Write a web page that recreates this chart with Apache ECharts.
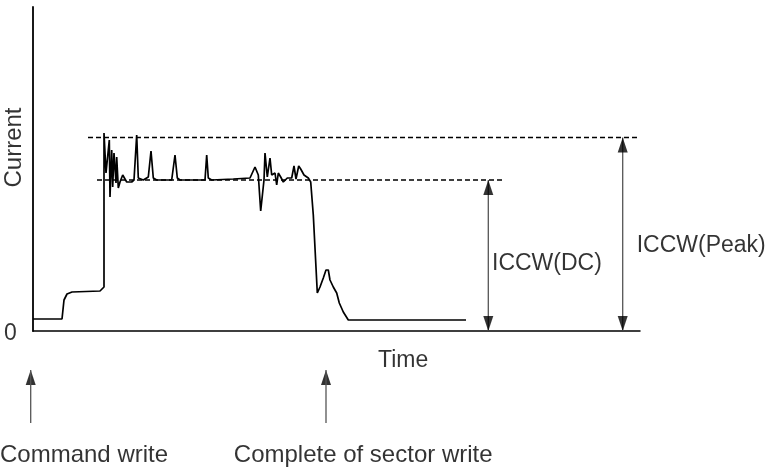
<!DOCTYPE html>
<html><head><meta charset="utf-8">
<script src="https://cdn.jsdelivr.net/npm/echarts@6/dist/echarts.min.js"></script>
<style>html,body{margin:0;padding:0;background:#fff}#c{width:769px;height:471px}</style>
</head><body><div id="c"></div>
<script>
// Current waveform (time, current) in arbitrary units
const currentTrace = [
  [0,12],[29,12],[31,31],[34,37],[39,39],[67,40],[71,44],
  [71,198],[73,158],[76.3,191],[77,134],[78.7,181],[79.7,144],[81,178],[83,148],[83.7,174],
  [85.3,143],[87,149],[89.7,156],[93.7,149],[98.7,149],[101,151],[103.7,196],[105.3,153],
  [110.3,151],[115.3,154],[118,180],[120.3,153],[123.7,151],[138.7,151],[142,176],[144.3,153],
  [147,151],[172,151],[173.7,176],[175.3,153],[178.7,151],[200.3,152],[217,153],[222,164],
  [225.3,156],[227.7,120],[231,151],[232,178],[234.3,154],[237,173],[238.7,156],[242,158],
  [243.7,146],[245.3,158],[247.7,154],[250.3,149],[254.3,153],[258.7,153],[261,165],[263,152],
  [265.7,165],[267.7,162],[271,156],[275.3,153],[277.7,149],[280.3,116],[282,114],[284.3,38],
  [287,44],[290.3,53],[293,61],[295.3,61],[297,51],[300.3,44],[303.7,38],[306.3,28],[310.3,19],
  [315.3,11],[433,11]
];
const peakLevel = 193.5;
const dcLevel = 151;
const peakLineRange = [55, 605];
const dcLineRange = [64, 472];
const dcArrowX = 455.3;
const peakArrowX = 589.7;
const yTickLabels = ['0'];
const eventTimes = [-2.3, 293];
const eventLabels = ['Command write', 'Complete of sector write'];
const eventLabelX = [-33, 200.8];
const annotations = [
  {text: 'ICCW(DC)', x: 459, y: 67},
  {text: 'ICCW(Peak)', x: 603.7, y: 85.5}
];
const zeroLabel = {text: yTickLabels[0], x: -22.5, y: -3};
const yAxisTitle = {text: 'Current', x: -19, y: 183.5};
const xAxisTitle = {text: 'Time', x: 345, y: 110};

const FONT = 'Liberation Sans, Arial, sans-serif';
const FS = 23;
const chart = echarts.init(document.getElementById('c'));
const textLabel = (pos, fs) => ({show: true, position: pos, distance: 0, color: '#000', fontSize: fs || FS, fontFamily: FONT, formatter: p => p.data.name});

chart.setOption({
  animation: false,
  backgroundColor: '#fff',
  grid: [
    {left: 33, right: 129, top: 7, bottom: 140},
    {left: 0, right: 129, top: 340, height: 131}
  ],
  xAxis: [
    {type: 'value', gridIndex: 0, min: 0, max: 607, axisLine: {show: true, lineStyle: {color: '#000', width: 1.5}},
      axisTick: {show: false}, axisLabel: {show: false}, splitLine: {show: false}},
    {type: 'value', gridIndex: 1, min: -33, max: 607, show: false}
  ],
  yAxis: [
    {type: 'value', gridIndex: 0, min: 0, max: 324, interval: 324,
      axisLine: {show: true, lineStyle: {color: '#000', width: 1.8}},
      axisTick: {show: false}, splitLine: {show: false}, axisLabel: {show: false}},
    {type: 'value', gridIndex: 1, min: 0, max: 131, show: false}
  ],
  series: [
    {type: 'line', data: currentTrace, symbol: 'none', clip: false, lineStyle: {color: '#000', width: 1.7}, z: 5},
    {type: 'line', data: [[peakLineRange[0], peakLevel], [peakLineRange[1], peakLevel]], symbol: 'none',
      lineStyle: {color: '#000', width: 1.3, type: [5, 3]}},
    {type: 'line', data: [[dcLineRange[0], dcLevel], [dcLineRange[1], dcLevel]], symbol: 'none',
      lineStyle: {color: '#000', width: 1.3, type: [5, 3]}},
    {type: 'line', data: [[dcArrowX, 0], [dcArrowX, dcLevel]], symbol: 'none', lineStyle: {color: '#555', width: 1.3}},
    {type: 'line', data: [[peakArrowX, 0], [peakArrowX, peakLevel]], symbol: 'none', lineStyle: {color: '#555', width: 1.3}},
    {type: 'scatter', data: [[dcArrowX, dcLevel], [peakArrowX, peakLevel]], symbol: 'triangle', symbolSize: [10, 15],
      symbolOffset: [0, '50%'], itemStyle: {color: '#000'}, clip: false, z: 6},
    {type: 'scatter', data: [[dcArrowX, 0], [peakArrowX, 0]], symbol: 'triangle', symbolSize: [10, 15], symbolRotate: 180,
      symbolOffset: [0, '-50%'], itemStyle: {color: '#000'}, clip: false, z: 6},
    {type: 'scatter', data: annotations.map(a => ({name: a.text, value: [a.x, a.y]})), symbolSize: 0, clip: false,
      label: textLabel('right')},
    {type: 'scatter', data: [{name: zeroLabel.text, value: [zeroLabel.x, zeroLabel.y]}], symbolSize: 0, clip: false,
      label: textLabel('inside')},
    {type: 'scatter', data: [{name: yAxisTitle.text, value: [yAxisTitle.x, yAxisTitle.y]}], symbolSize: 0, clip: false,
      label: Object.assign(textLabel('inside', 24), {rotate: 90})},
    // bottom annotation panel
    ...eventTimes.map(t => ({type: 'line', xAxisIndex: 1, yAxisIndex: 1, data: [[t, 48], [t, 101]], symbol: 'none', clip: false,
      lineStyle: {color: '#555', width: 1.3}})),
    {type: 'scatter', xAxisIndex: 1, yAxisIndex: 1, data: eventTimes.map(t => [t, 101]), symbol: 'triangle', symbolSize: [10, 15],
      symbolOffset: [0, '50%'], itemStyle: {color: '#000'}, clip: false},
    {type: 'scatter', xAxisIndex: 1, yAxisIndex: 1, data: eventLabels.map((s, i) => ({name: s, value: [eventLabelX[i], 16]})),
      symbolSize: 0, clip: false, label: textLabel('right', 24)},
    {type: 'scatter', xAxisIndex: 1, yAxisIndex: 1, data: [{name: xAxisTitle.text, value: [xAxisTitle.x, xAxisTitle.y]}],
      symbolSize: 0, clip: false, label: textLabel('right')}
  ]
});
</script></body></html>
